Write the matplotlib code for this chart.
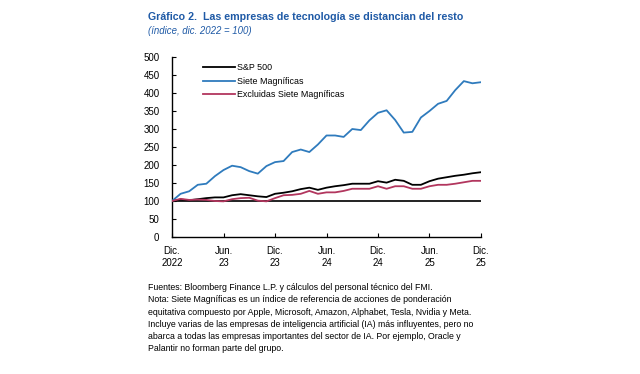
import matplotlib
matplotlib.use("Agg")
import matplotlib.pyplot as plt
import numpy as np

plt.rcParams['font.family'] = ['Liberation Sans', 'DejaVu Sans']

months = np.arange(37)
sp500 = [100, 104, 102, 105, 108, 110, 110, 116, 119, 116, 113, 111, 120, 123, 127, 133, 137, 131, 137,
         141, 144, 148, 148, 148, 155, 151, 159, 156, 145, 145, 155, 162, 166, 170, 173, 177, 180]
siete = [100, 120, 127, 145, 148, 169, 186, 198, 194, 183, 176, 197, 208, 211, 236, 243, 236, 257, 282,
         282, 278, 300, 297, 324, 345, 352, 325, 290, 292, 332, 350, 370, 378, 408, 433, 427, 430]
excl = [100, 106, 103, 104, 103, 100, 99, 105, 108, 109, 101, 99, 108, 116, 117, 120, 128, 120, 124,
        124, 128, 134, 134, 134, 141, 134, 141, 141, 134, 134, 141, 145, 145, 148, 152, 156, 156]
xtick_pos = [0, 6, 12, 18, 24, 30, 36]
xtick_labels = ["Dic.\n2022", "Jun.\n23", "Dic.\n23", "Jun.\n24", "Dic.\n24", "Jun.\n25", "Dic.\n25"]
series_names = ["S&P 500", "Siete Magníficas", "Excluidas Siete Magníficas"]

fig = plt.figure(figsize=(6.4, 3.74), dpi=100)
ax = fig.add_axes([172/640, 1-237/374, (481-172)/640, (237-57)/374])

ax.axhline(100, color='#222222', lw=1.4, zorder=1)
ax.plot(months, sp500, color='black', lw=1.3, label=series_names[0], zorder=3)
ax.plot(months, siete, color='#2f7bbd', lw=1.3, label=series_names[1], zorder=3)
ax.plot(months, excl, color='#b2365e', lw=1.3, label=series_names[2], zorder=3)

ax.set_xlim(0, 36)
ax.set_ylim(0, 500)
ax.set_yticks(np.arange(0, 501, 50))
ax.set_xticks(xtick_pos)
ax.set_xticklabels(xtick_labels)
for s in ['top', 'right']:
    ax.spines[s].set_visible(False)
for s in ['left', 'bottom']:
    ax.spines[s].set_color('black')
    ax.spines[s].set_linewidth(1.0)
ax.tick_params(axis='both', direction='in', length=3, labelsize=7, colors='black')
ax.tick_params(axis='y', pad=9)
ax.tick_params(axis='x', pad=6.5)

leg = ax.legend(loc='upper left', bbox_to_anchor=(0.08, 1.0), frameon=False, fontsize=6.4,
                handlelength=3.6, handletextpad=0.2, labelspacing=0.5, borderaxespad=0.3)

fig.text(148/640, 1-17.5/374, "Gráfico 2.  Las empresas de tecnología se distancian del resto",
         fontsize=7.7, fontweight='bold', color='#1f5aa6', va='center', ha='left')
fig.text(148/640, 1-30.5/374, "(índice, dic. 2022 = 100)", fontsize=6.9, style='italic',
         color='#1f5aa6', va='center', ha='left')

note = ("Fuentes: Bloomberg Finance L.P. y cálculos del personal técnico del FMI.\n"
        "Nota: Siete Magníficas es un índice de referencia de acciones de ponderación\n"
        "equitativa compuesto por Apple, Microsoft, Amazon, Alphabet, Tesla, Nvidia y Meta.\n"
        "Incluye varias de las empresas de inteligencia artificial (IA) más influyentes, pero no\n"
        "abarca a todas las empresas importantes del sector de IA. Por ejemplo, Oracle y\n"
        "Palantir no forman parte del grupo.")
fig.text(148/640, 1-283/374, note, fontsize=6.3, color='black', va='top', ha='left', linespacing=1.47)

fig.savefig("out.png", dpi=100, facecolor='white')
